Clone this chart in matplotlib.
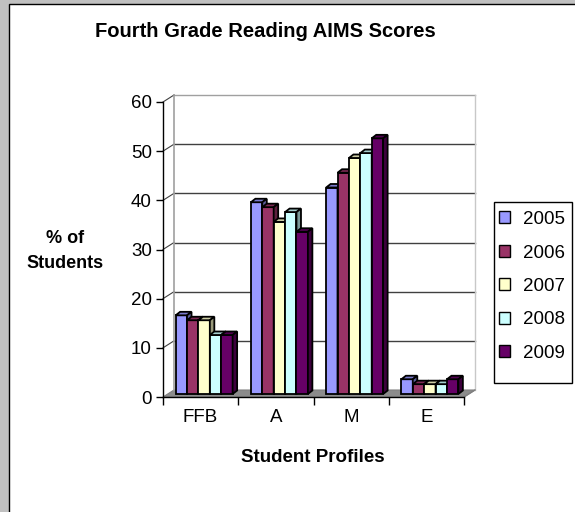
import matplotlib.pyplot as plt
from matplotlib.patches import Rectangle, Polygon, Patch
import matplotlib.colors as mcolors

plt.rcParams['font.family'] = ['Liberation Sans', 'DejaVu Sans']

categories = ['FFB', 'A', 'M', 'E']
years = ['2005', '2006', '2007', '2008', '2009']
y2005 = [16, 39, 42, 3]
y2006 = [15, 38, 45, 2]
y2007 = [15, 35, 48, 2]
y2008 = [12, 37, 49, 2]
y2009 = [12, 33, 52, 3]
series = [y2005, y2006, y2007, y2008, y2009]
colors = ['#9999FF', '#993366', '#FFFFCC', '#CCFFFF', '#660066']

W, H = 575, 512
fig = plt.figure(figsize=(W / 100, H / 100), dpi=100, facecolor='#C0C0C0')

# white chart area
fig.patches.append(Rectangle((9 / W, -0.05), 1.1, 1 - 4 / H + 0.05, transform=fig.transFigure,
                             facecolor='white', edgecolor='black', lw=1, zorder=-1))

# front plane of the plot (pixel geometry)
left, right, bottom, top = 163, 464, 397, 102
ax = fig.add_axes([left / W, 1 - bottom / H, (right - left) / W, (bottom - top) / H])
ax.patch.set_visible(False)
ax.set_xlim(0, len(categories))
ax.set_ylim(0, 60)
sx = len(categories) / (right - left)   # data units per pixel
sy = 60 / (bottom - top)

# back wall / floor offset
wdx, wdy = 11 * sx, 7 * sy
ncat = len(categories)

floor = Polygon([(0, 0), (ncat, 0), (ncat + wdx, wdy), (wdx, wdy)], closed=True,
                facecolor='#8C8C8C', edgecolor='#808080', lw=0.8, zorder=1, clip_on=False)
ax.add_patch(floor)

for v in range(10, 61, 10):
    col = '#A0A0A0' if v == 60 else '#404040'
    ax.plot([wdx, ncat + wdx], [v + wdy, v + wdy], color=col, lw=1, zorder=1.5, clip_on=False)
    ax.plot([0, wdx], [v, v + wdy], color='#404040', lw=0.8, zorder=1.5, clip_on=False)
ax.plot([wdx, wdx], [wdy, 60 + wdy], color='#A0A0A0', lw=1.2, zorder=1.5, clip_on=False)
ax.plot([ncat + wdx, ncat + wdx], [wdy, 60 + wdy], color='#C8C8C8', lw=1, zorder=1.5, clip_on=False)
ax.plot([ncat, ncat + wdx], [0, wdy], color='#808080', lw=1, zorder=1.5, clip_on=False)

# bars
bw = 11.4 * sx
bdx, bdy = 3.5 * sx, 3 * sy        # bar position inside the depth
ddx, ddy = 4.5 * sx, 3.5 * sy      # bar depth
nser = len(series)
z = 3
for c in range(ncat):
    for s in range(nser):
        v = series[s][c]
        x = c + 0.5 - nser * bw / 2 + s * bw + bdx
        y0 = bdy
        rgb = mcolors.to_rgb(colors[s])
        top_c = tuple(k * 0.8 for k in rgb)
        side_c = tuple(k * 0.6 for k in rgb)
        ax.add_patch(Rectangle((x, y0), bw, v, facecolor=colors[s], edgecolor='black',
                               lw=1.3, zorder=z, clip_on=False))
        ax.add_patch(Polygon([(x, y0 + v), (x + bw, y0 + v), (x + bw + ddx, y0 + v + ddy),
                              (x + ddx, y0 + v + ddy)], closed=True, facecolor=top_c,
                             edgecolor='black', lw=1.3, zorder=z, clip_on=False))
        ax.add_patch(Polygon([(x + bw, y0), (x + bw + ddx, y0 + ddy), (x + bw + ddx, y0 + v + ddy),
                              (x + bw, y0 + v)], closed=True, facecolor=side_c,
                             edgecolor='black', lw=1.3, zorder=z, clip_on=False))
        z += 0.01

for sp in ['top', 'right']:
    ax.spines[sp].set_visible(False)
for sp in ['left', 'bottom']:
    ax.spines[sp].set_color('black')
    ax.spines[sp].set_linewidth(1)
    ax.spines[sp].set_zorder(2)

ax.set_yticks(range(0, 61, 10))
ax.tick_params(axis='y', direction='out', length=5, width=1, pad=3, labelsize=13.5)
ax.set_xticks(range(ncat + 1))
ax.set_xticklabels([])
ax.set_xticks([c + 0.5 for c in range(ncat)], minor=True)
ax.set_xticklabels(categories, minor=True)
ax.tick_params(axis='x', which='major', direction='out', length=6, width=1)
ax.tick_params(axis='x', which='minor', length=0, pad=9, labelsize=13.5)

fig.text(265 / W, 1 - 31.5 / H, 'Fourth Grade Reading AIMS Scores', ha='center', va='center',
         fontsize=14.5, fontweight='bold')
fig.text(65 / W, 1 - 251 / H, '% of\nStudents', ha='center', va='center',
         fontsize=13, fontweight='bold', linespacing=1.6)
fig.text(313 / W, 1 - 457 / H, 'Student Profiles', ha='center', va='center',
         fontsize=13.5, fontweight='bold')

# legend
fig.patches.append(Rectangle((494 / W, 1 - 383 / H), 78 / W, 181 / H, transform=fig.transFigure,
                             facecolor='white', edgecolor='black', lw=1, zorder=1))
handles = [Patch(facecolor=colors[i], edgecolor='black', lw=1) for i in range(nser)]
leg = fig.legend(handles, years, loc='upper left', bbox_to_anchor=(499 / W, 1 - 211 / H),
                 frameon=False, fontsize=13.5, handlelength=0.6, handleheight=0.6,
                 handletextpad=0.7, labelspacing=0.88, borderpad=0, borderaxespad=0)
leg.set_zorder(2)

fig.savefig('out.png', dpi=100, facecolor=fig.get_facecolor())
